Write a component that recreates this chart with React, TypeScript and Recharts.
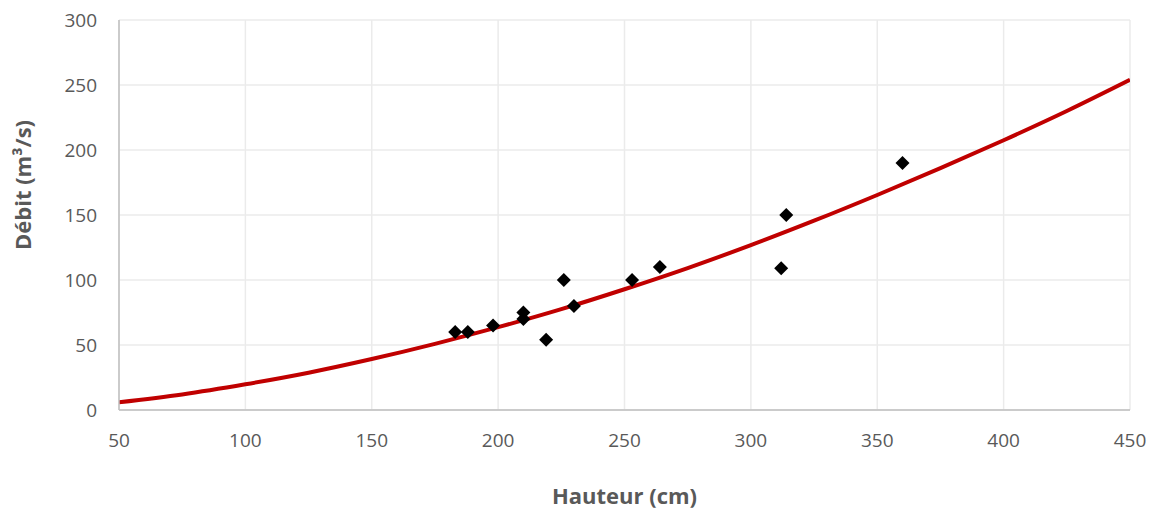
import {
  CartesianGrid,
  ComposedChart,
  Label,
  Line,
  Scatter,
  XAxis,
  YAxis,
} from "recharts";

// measured heights (cm) and discharges (m³/s)
const measHeights = [183, 188, 198, 210, 210, 219, 226, 230, 253, 264, 312, 314, 360];
const measFlows = [60, 60, 65, 75, 70, 54, 100, 80, 100, 110, 109, 150, 190];

// rating curve
const curveHeights = [50, 75, 100, 125, 150, 175, 200, 225, 250, 275, 300, 325, 350, 375, 400, 425, 450];
const curveFlows = [6, 12, 19.8, 28.7, 39.2, 50.9, 63.7, 77.6, 92.9, 109.2, 126.8, 145.6, 165.4, 186, 207.5, 230, 254];

const xTicks = [50, 100, 150, 200, 250, 300, 350, 400, 450];
const yTicks = [0, 50, 100, 150, 200, 250, 300];

const FONT = "'Open Sans', 'Noto Sans', sans-serif";
const TEXT = "#595959";

const points = measHeights.map((h, i) => ({ h, q: measFlows[i] }));
const curve = curveHeights.map((h, i) => ({ h, q: curveFlows[i] }));

function Diamond(props: any) {
  const { cx, cy } = props;
  const r = 7;
  return (
    <polygon
      points={`${cx},${cy - r} ${cx + r},${cy} ${cx},${cy + r} ${cx - r},${cy}`}
      fill="#000"
    />
  );
}

export default function App() {
  return (
    <div style={{ position: "absolute", left: 0, top: 0, width: 1159, height: 512, background: "#fff" }}>
      <ComposedChart
        width={1159}
        height={512}
        data={curve}
        margin={{ top: 20, right: 29, bottom: 42, left: 59 }}
      >
        <CartesianGrid stroke="#ebebeb" strokeWidth={1.5} />
        <XAxis
          dataKey="h"
          type="number"
          domain={[50, 450]}
          ticks={xTicks}
          allowDataOverflow
          height={60}
          stroke="#bfbfbf"
          strokeWidth={1.5}
          tickLine={false}
          tickSize={0}
          tickMargin={24}
          tick={{ fill: TEXT, fontSize: 19, fontFamily: FONT }}
        >
          <Label
            value="Hauteur (cm)"
            position="bottom"
            offset={18}
            style={{ fill: TEXT, fontSize: 22, fontWeight: 700, fontFamily: FONT }}
          />
        </XAxis>
        <YAxis
          dataKey="q"
          type="number"
          domain={[0, 300]}
          ticks={yTicks}
          allowDataOverflow
          width={60}
          stroke="#bfbfbf"
          strokeWidth={1.5}
          tickLine={false}
          tickSize={0}
          tickMargin={22}
          tick={{ fill: TEXT, fontSize: 19, fontFamily: FONT }}
        >
          <Label
            value="Débit (m³/s)"
            angle={-90}
            position="insideLeft"
            offset={-36}
            dy={-30}
            style={{ fill: TEXT, fontSize: 22, fontWeight: 700, fontFamily: FONT, textAnchor: "middle" }}
          />
        </YAxis>
        <Line
          dataKey="q"
          type="monotone"
          stroke="#c00000"
          strokeWidth={4}
          dot={false}
          activeDot={false}
          isAnimationActive={false}
        />
        <Scatter data={points} dataKey="q" shape={Diamond} isAnimationActive={false} />
      </ComposedChart>
    </div>
  );
}
